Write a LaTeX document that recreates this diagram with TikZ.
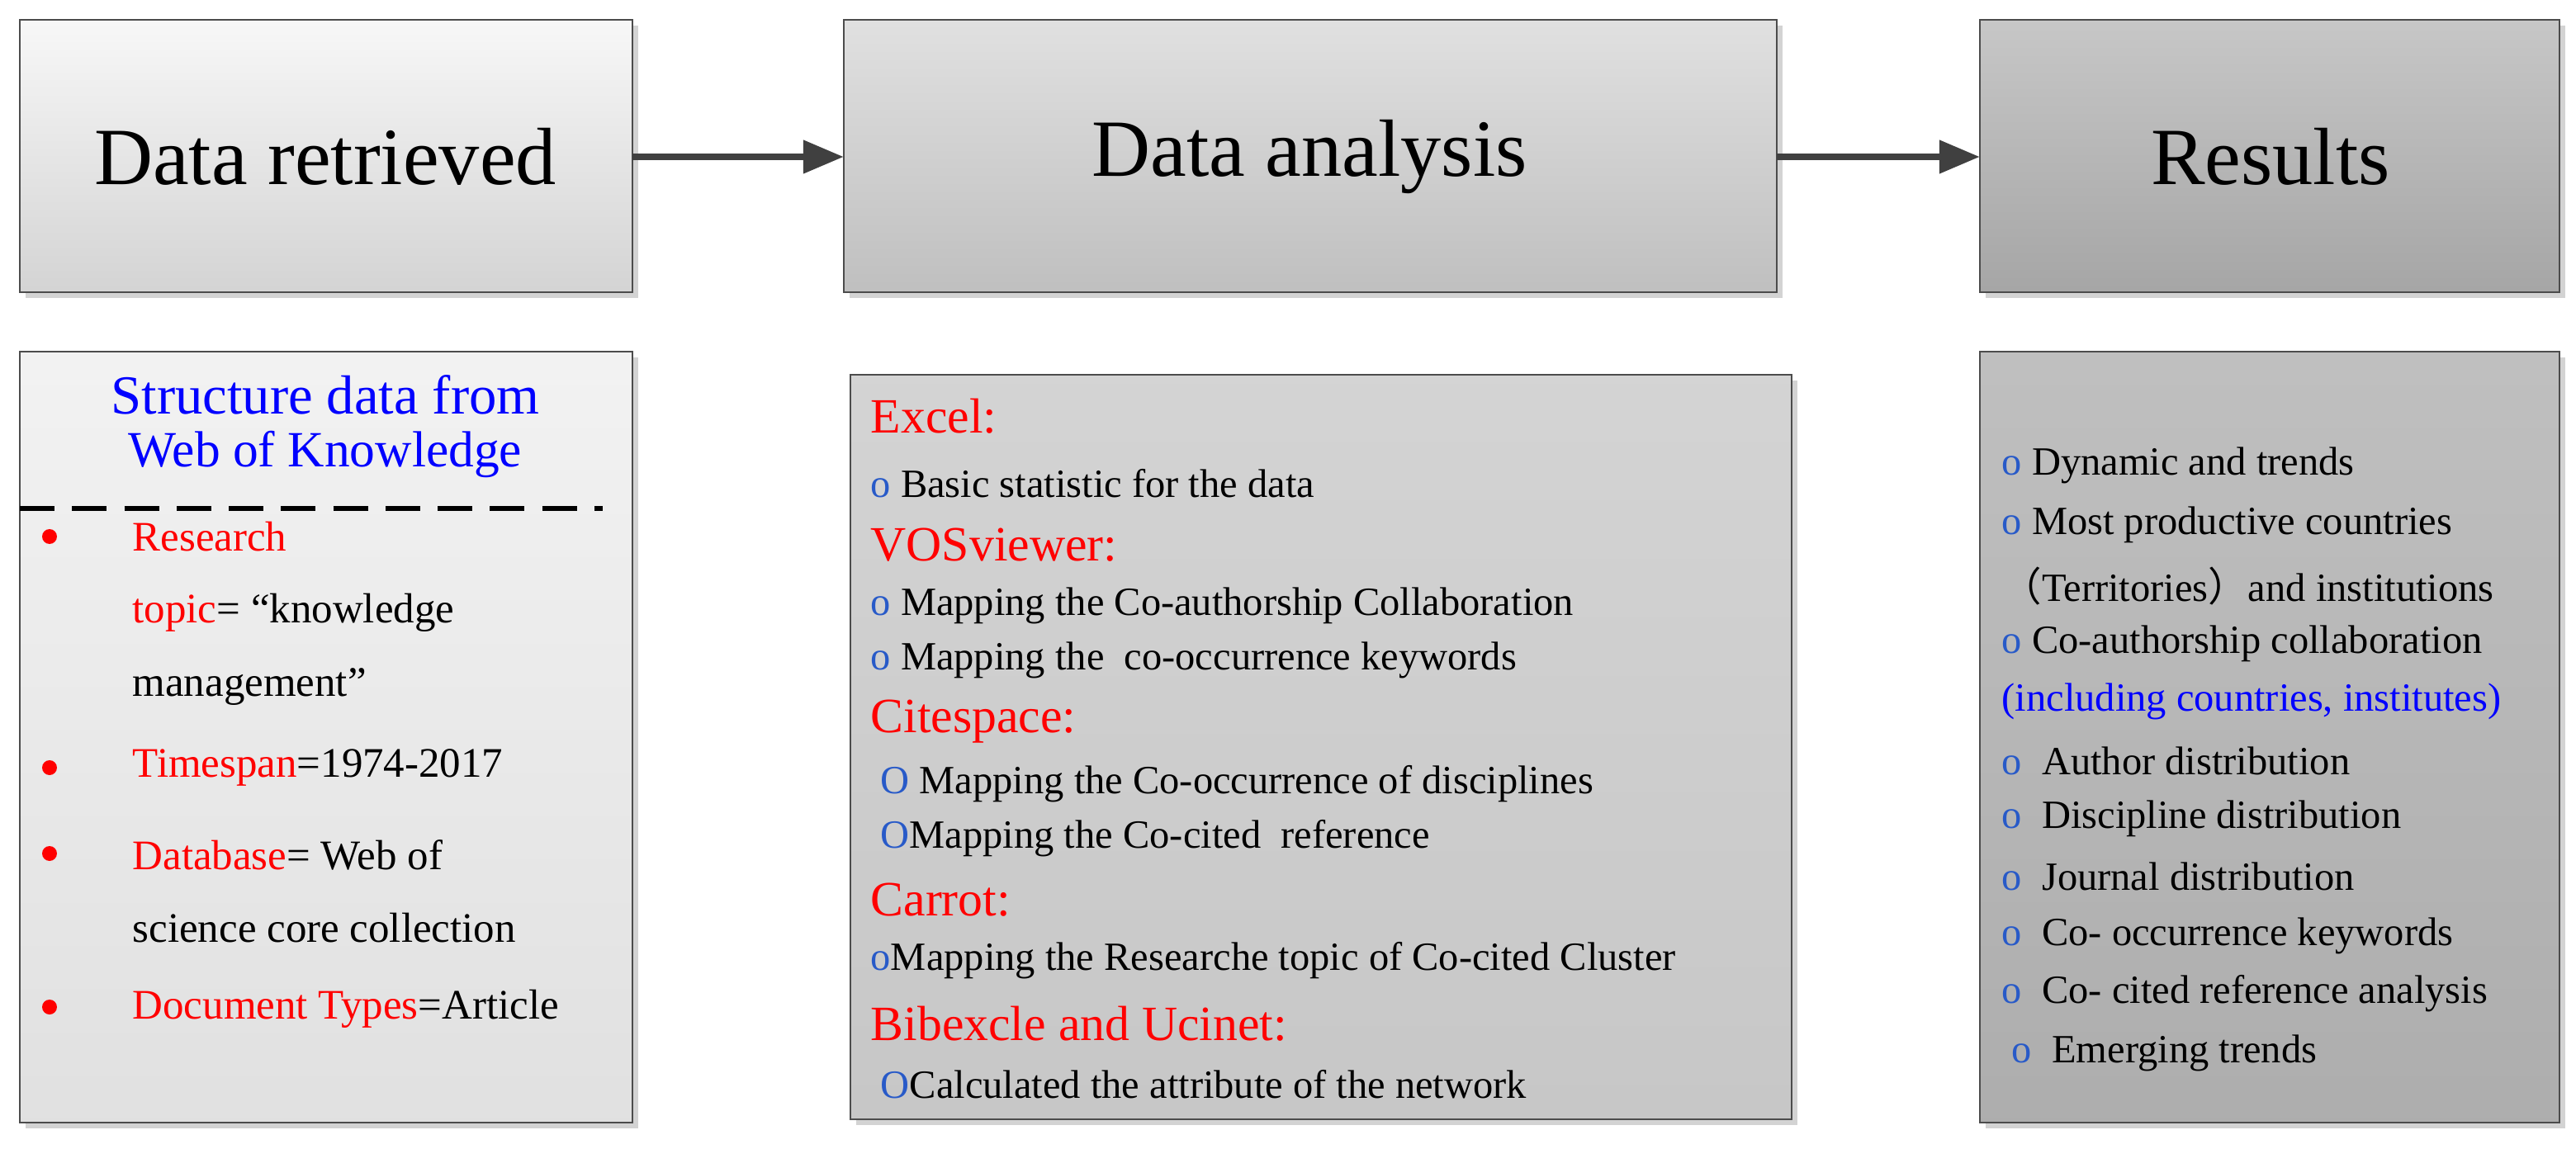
\documentclass[tikz,border=0pt]{standalone}
\usepackage{fontspec}
\setmainfont{Liberation Serif}
\newfontfamily\cjk{Noto Sans CJK SC}
\usetikzlibrary{positioning,shadows,arrows.meta}
\definecolor{bulblue}{RGB}{40,90,200}
\begin{document}
\begin{tikzpicture}[x=0.02cm,y=-0.02cm,
  box/.style={draw=black!70, line width=0.8pt, drop shadow={shadow xshift=2pt, shadow yshift=-2pt, opacity=0.35}},
  head/.style={font=\fontsize{28}{32}\selectfont},
  line/.style={anchor=west, inner sep=0pt, font=\fontsize{13.8}{16}\selectfont},
  left line/.style={line, font=\fontsize{14.5}{17}\selectfont},
  red head/.style={line, text=red, font=\fontsize{17}{20}\selectfont},
  flow/.style={-{Triangle[length=14pt,width=11pt]}, line width=2.5pt, draw=black!75}]
\useasboundingbox (0,0) rectangle (1560,696);

% top row
\shade[box, top color=black!3, bottom color=black!17] (12,12) rectangle (383,177);
\shade[box, top color=black!12, bottom color=black!25] (511,12) rectangle (1076,177);
\shade[box, top color=black!22, bottom color=black!35] (1199,12) rectangle (1550,177);
\node[head] (retr) at (197,95) {Data retrieved};
\node[head] (anal) at (793,95) {Data analysis};
\node[head] (res) at (1375,95) {Results};
\coordinate (r1) at (383,95);
\coordinate (a0) at (511,95);
\coordinate (a1) at (1076,95);
\coordinate (s0) at (1199,95);
\draw[flow] (r1) -- (a0);
\draw[flow] (a1) -- (s0);

% bottom row
\shade[box, top color=black!5, bottom color=black!12] (12,213) rectangle (383,680);
\shade[box, top color=black!17, bottom color=black!22] (515,227) rectangle (1085,678);
\shade[box, top color=black!25, bottom color=black!32] (1199,213) rectangle (1550,680);

% left box
\node[text=blue, font=\fontsize{19}{22}\selectfont] (sd1) at (197,239) {Structure data from};
\node[text=blue, font=\fontsize{17.5}{20}\selectfont] (sd2) at (197,275) {Web of Knowledge};
\draw[line width=1.5pt, dash pattern=on 12pt off 6pt] (12,308) -- (365,308);
\foreach \y in {325,465,517,610} \fill[red] (30,\y) circle (4.5);
\node[left line] (l1) at (80,325) {\textcolor{red}{Research}};
\node[left line] (l2) at (80,371) {\textcolor{red}{topic}= “knowledge};
\node[left line] (l3) at (80,416) {management”};
\node[left line] (l4) at (80,465) {\textcolor{red}{Timespan}=1974-2017};
\node[left line] (l5) at (80,518) {\textcolor{red}{Database}= Web of};
\node[left line] (l6) at (80,562) {science core collection};
\node[left line] (l7) at (80,611) {\textcolor{red}{Document Types}=Article};

% middle box
\node[red head] (m1) at (527,252) {Excel:};
\node[line] (m2) at (527,293) {\textcolor{bulblue}{o} Basic statistic for the data};
\node[red head] (m3) at (527,330) {VOSviewer:};
\node[line] (m4) at (527,367) {\textcolor{bulblue}{o} Mapping the Co-authorship Collaboration};
\node[line] (m5) at (527,400) {\textcolor{bulblue}{o} Mapping the \ co-occurrence keywords};
\node[red head] (m6) at (527,437) {Citespace:};
\node[line] (m7) at (533,475) {\textcolor{bulblue}{O} Mapping the Co-occurrence of disciplines};
\node[line] (m8) at (533,508) {\textcolor{bulblue}{O}Mapping the Co-cited \ reference};
\node[red head] (m9) at (527,545) {Carrot:};
\node[line] (m10) at (527,582) {\textcolor{bulblue}{o}Mapping the Researche topic of Co-cited Cluster};
\node[red head] (m11) at (527,620) {Bibexcle and Ucinet:};
\node[line] (m12) at (533,657) {\textcolor{bulblue}{O}Calculated the attribute of the network};

% right box
\node[line] (q1) at (1212,282) {\textcolor{bulblue}{o} Dynamic and trends};
\node[line] (q2) at (1212,318) {\textcolor{bulblue}{o} Most productive countries};
\node[line] (q3) at (1212,355) {{\cjk （}Territories{\cjk ）}and institutions};
\node[line] (q4) at (1212,390) {\textcolor{bulblue}{o} Co-authorship collaboration};
\node[line, text=blue] (q5) at (1212,425) {(including countries, institutes)};
\node[line] (q6) at (1212,461) {\textcolor{bulblue}{o} \ Author distribution};
\node[line] (q7) at (1212,496) {\textcolor{bulblue}{o} \ Discipline distribution};
\node[line] (q8) at (1212,531) {\textcolor{bulblue}{o} \ Journal distribution};
\node[line] (q9) at (1212,567) {\textcolor{bulblue}{o} \ Co- occurrence keywords};
\node[line] (q10) at (1212,602) {\textcolor{bulblue}{o} \ Co- cited reference analysis};
\node[line] (q11) at (1218,638) {\textcolor{bulblue}{o} \ Emerging trends};
\end{tikzpicture}
\end{document}
